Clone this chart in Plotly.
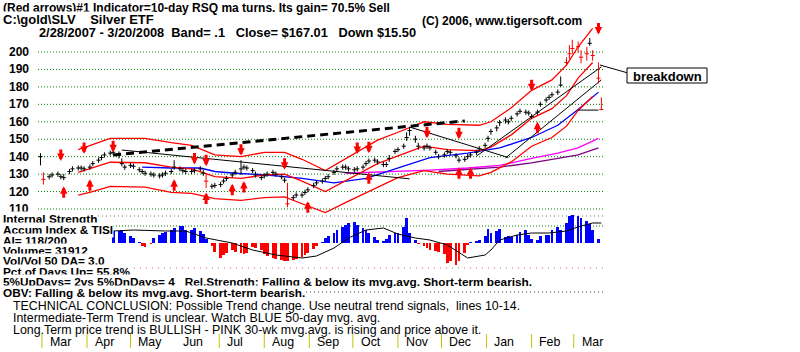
import pandas as pd
import plotly.graph_objects as go

# ---------------- data ----------------
bar_dates = pd.bdate_range("2007-02-28", "2008-03-20")[::2]   # one bar every 2 trading days

close = [140,127,128.5,129.5,130,128.5,128,131.5,133,133.5,
 133.5,133,134,136,138,139.5,141,142,142.5,141,
 136,134,135,134.5,132.5,131.5,130.5,130,129.5,129,
 129.5,130.5,131.5,134,133,132,131.5,131.5,132,133,
 130.5,126,123,123.5,124,126,127.5,129.5,131,133,
 134,133.5,132,129.5,128,129,130,131,130,128.5,
 126.5,113,116.5,118,118,119.5,121,123.5,125,126,
 127.5,128.5,131,133,134,134,133,132.5,133,134,
 136,137.5,138,137,135.5,135.5,139,143,144,146,
 151,155,150,146,145,146,145,142.5,140,141,
 143,142.5,140.5,138,138.5,140,141,142.5,144.5,146.5,
 150.5,154.5,156.5,159.5,161,160,162,164.5,166,165.5,
 165,163,165.5,170,172.5,174,175.5,177,181,194,
 199,202,203,197,199,205,198,185,167]
high = [142,131,130,131,131.5,130,130,133,134.5,135,
 135,134.5,135.5,137.5,139.5,141,142.5,143.5,144,143,
 139,135.5,136.5,136,134,133,132,131.5,131,130.5,
 131,132,133,138,134.5,133.5,133,133,133.5,134.5,
 132.5,130.5,124.5,125,125.5,127.5,129,131,132.5,138,
 135.5,135,133.5,131.5,129.5,130.5,131.5,132.5,131.5,130,
 128,125,118,119.5,119.5,121,122.5,125,126.5,127.5,
 129,130,132.5,134.5,135.5,135.5,134.5,134,134.5,135.5,
 137.5,139,139.5,138.5,137,137,141,144.5,145.5,147.5,
 154,157,152,148,146.5,147.5,146.5,144,141.5,142.5,
 144.5,144,142,139.5,140,141.5,142.5,144,146,148,
 152,156,158,161,162.5,161.5,163.5,166,167.5,167,
 166.5,164.5,167,171.5,174,175.5,177,178.5,186,197,
 204,207,206,201,203,208,201,194,174]
low = [135,124,127,128,128.5,127,126.5,130,131.5,132,
 132,131.5,132.5,134.5,136.5,138,139.5,140.5,141,139,
 134.5,132.5,133.5,133,131,130,129,128.5,128,127.5,
 128,129,130,132.5,131.5,130.5,130,130,130.5,131.5,
 129,122,121.5,122,122.5,124.5,126,128,129.5,129.5,
 132.5,132,130.5,128,126.5,127.5,128.5,129.5,128.5,127,
 125,111,115,116.5,116.5,118,119.5,122,123.5,124.5,
 126,127,129.5,131.5,132.5,132.5,131.5,131,131.5,132.5,
 134.5,136,136.5,135.5,134,134,137,141.5,142.5,144.5,
 149,152,148,144,143.5,144.5,143.5,141,138.5,139.5,
 141.5,141,139,136.5,137,138.5,139.5,141,143,145,
 148.5,152.5,154.5,157.5,159,158.5,160.5,163,164.5,164,
 163.5,161.5,164,168.5,171,172.5,174,175.5,180,192,
 196,199,199.5,193.5,195,203.5,195,182,166.7]
red_bars = [1, 41, 61, 129, 130, 131, 132, 133, 134, 136, 137, 138]

band_idx = [9,12,17,26,32,37,43,49,55,60,64,70,76,83,88,94,100,108,111,116,121,126,129,132,136]
band_upper = [144,146.5,150.5,150.5,148,146.5,141,140,142.5,142.5,138.5,132,140,149.5,154,160,158.5,158,160,168,178,184,192.5,203,213.5]
ma21 = [131,133,136.8,136.5,134,133,128.5,127.5,129.5,130,126,120,127,136,140.5,146,144,143.5,145.5,152.5,162,167.5,175,185,194]
band_lower = [118,119.5,123,122.5,119.5,119,116,115,116.5,117,113,108,114.5,122.5,128,132,130,129,131,137,146,151,157.5,166.5,174.5]

ma50_idx = [25,32,39,43,48,56,64,72,80,88,96,105,113,121,127,132,137]
ma50 = [134,133.5,133.5,131.5,130.5,129.5,127.5,125,127.5,133.5,139.5,142,145,151,158,167,177]

ma30wk_idx = [75,88,96,105,113,121,127,132,137]
ma30wk = [130.5,131.5,132.3,133.5,135,139,142,145,150.5]

purple_idx = [98,113,121,132,137]
purple_ma = [131.5,134,136.5,141,145]

# trend lines (bar index pairs, price pairs)
dash_idx, dash_val = [18, 104], [141, 160.5]
down1_idx, down1_val = [20, 91], [143.8, 127.3]
down2_idx, down2_val = [91, 115], [157, 139.5]
up1_idx, up1_val = [107, 138], [140.3, 191.5]
up2_idx, up2_val = [114, 138], [139.2, 184]
flat_idx, flat_val = [132, 137], [166.7, 166.7]

# signal arrows (bar index, price at arrow tip)
sell_idx = [5, 11, 18, 38, 41, 49, 60, 78, 81, 95, 103, 121, 137]
sell_tip = [137.5, 141.5, 142.5, 135.5, 134.5, 140.5, 132.5, 141.5, 142, 150.5, 150, 177.5, 210]
buy_idx = [6, 12, 33, 41, 47, 50, 66, 81, 103, 106, 122]
buy_tip = [123, 127, 127, 119.5, 124.5, 126, 114.5, 131, 134, 134, 160]

# accumulation index (starts at bar 18) and its moving line
ai_start = 18
accum = [12,12.5,13,10,7,5,1,-3,-4,-1,5,8,10,11,13,15,17,17,13,13,
 15,12,9,4,-3,-9,-15,-12,-10,-7,-9,-10,-11,-10,-4,-5,-7,-11,-13,-15,
 -16,-17,-18,-18,-17,-16,-14,-12,-10,-6,-3,1,5,7,10,13,16,18,20,21,
 18,15,13,10,6,3,2,4,8,10,10,16,25,10,3,-1,-3,-5,-7,-8,
 -9,-11,-20,-18,-22,-18,-10,-2,1,2,3,7,14,10,12,14,6,7,6,8,
 11,13,8,4,3,7,8,8,13,16,13,20,27,28,27,25,22,19,13,4,0]
tisi_idx = [18,23,31,36,41,47,52,58,64,68,72,76,80,84,88,92,96,100,105,109,111,113,117,121,125,129,133,136,138]
tisi = [12,13,12,12,5,0,-7,-12,-15,-13,-5,5,13,15,9,5,3,-2,-15,-12,-7,3,8,10,10,12,17,20,20]

price_levels = [200,190,180,170,160,150,140,130,120,110]
month_starts = ["2007-03-01","2007-04-01","2007-05-01","2007-06-01","2007-07-01","2007-08-01","2007-09-01",
                "2007-10-01","2007-11-01","2007-12-01","2008-01-01","2008-02-01","2008-03-01"]
month_names = ["Mar","Apr","May","Jun","Jul","Aug","Sep","Oct","Nov","Dec","Jan","Feb","Mar"]
month_tick_shown = [True,True,True,False,True,True,True,True,True,True,True,True,True]

# ---------------- geometry helpers ----------------
W, H = 800, 352
def px(x): return x / W
def py(y): return 1 - y / H

PXDAY = 559 / 384.0
x_start = pd.Timestamp("2007-03-01") - pd.Timedelta(days=42 / PXDAY)
x_end = pd.Timestamp("2008-03-20") + pd.Timedelta(days=199 / PXDAY)
ppu = 157 / 90.0
y_top = 200 + 52 / ppu
y_bot = 110 - (H - 209) / ppu

D = list(bar_dates)
def dts(idx): return [D[i] for i in idx]

fig = go.Figure()

def bar_trace(indices, color):
    xs, ys, cx, cy = [], [], [], []
    for i in indices:
        xs += [D[i], D[i], None]
        ys += [low[i], high[i], None]
        cx.append(D[i]); cy.append(close[i])
    fig.add_trace(go.Scatter(x=xs, y=ys, mode="lines", line=dict(color=color, width=1), hoverinfo="skip"))
    fig.add_trace(go.Scatter(x=cx, y=cy, mode="markers",
                             marker=dict(symbol="line-ew", size=3, line=dict(color=color, width=1)), hoverinfo="skip"))

black_bars = [i for i in range(len(close)) if i not in red_bars]

def line_trace(idx, vals, color, width=1, dash=None):
    fig.add_trace(go.Scatter(x=dts(idx), y=vals, mode="lines",
                             line=dict(color=color, width=width, dash=dash), hoverinfo="skip"))

line_trace(ma30wk_idx, ma30wk, "#ff00ff", 1.3)
line_trace(purple_idx, purple_ma, "#800080", 1.3)
line_trace(ma50_idx, ma50, "#0000ff", 1.3)
line_trace(band_idx, band_upper, "#ff0000", 1.3)
line_trace(band_idx, ma21, "#ff0000", 1.3)
line_trace(band_idx, band_lower, "#ff0000", 1.3)
line_trace(dash_idx, dash_val, "#000000", 3, "8px,5px")
line_trace(down1_idx, down1_val, "#000000", 1)
line_trace(down2_idx, down2_val, "#000000", 1)
line_trace(up1_idx, up1_val, "#000000", 1)
line_trace(up2_idx, up2_val, "#000000", 1)
line_trace(flat_idx, flat_val, "#000000", 1)

bar_trace(black_bars, "#000000")
bar_trace(red_bars, "#ff0000")

ai_dates = D[ai_start:ai_start + len(accum)]
fig.add_trace(go.Bar(x=ai_dates, y=accum, yaxis="y2", width=86400000 * 1.9,
                     marker=dict(color=["#0000ff" if v >= 0 else "#ff0000" for v in accum], line=dict(width=0)),
                     hoverinfo="skip"))
fig.add_trace(go.Scatter(x=dts(tisi_idx), y=tisi, yaxis="y2", mode="lines",
                         line=dict(color="#000000", width=1), hoverinfo="skip"))

shapes = []
for lv in price_levels:
    shapes.append(dict(type="line", xref="paper", yref="y", x0=px(38), x1=px(604), y0=lv, y1=lv,
                       line=dict(color="#008000", width=1, dash="1px,2px"), layer="below"))
for yy, col, dsh in [(216, "#707070", "1px,3px"), (226, "#008000", "1px,2px"),
                     (268, "#c07070", "1px,5px"), (292, "#404040", "1px,3px")]:
    shapes.append(dict(type="line", xref="paper", yref="paper", x0=px(38), x1=px(604), y0=py(yy), y1=py(yy),
                       line=dict(color=col, width=1, dash=dsh), layer="below"))
for m, show in zip(month_starts, month_tick_shown):
    if show:
        shapes.append(dict(type="line", xref="x", yref="paper", x0=m, x1=m, y0=py(334), y1=py(348),
                           line=dict(color="#c0c000", width=1)))
shapes.append(dict(type="line", xref="paper", yref="paper", x0=px(600), y0=py(65), x1=px(628), y1=py(73),
                   line=dict(color="#000000", width=1)))
shapes.append(dict(type="rect", xref="paper", yref="paper", x0=px(627), y0=py(68), x1=px(707), y1=py(83),
                   line=dict(color="#000000", width=1), fillcolor="white"))

ann = []
SANS = "Liberation Sans, Arial, sans-serif"

def text(x, y, s, size=12, weight="bold", anchor="left", bg=None):
    ann.append(dict(xref="paper", yref="paper", x=px(x), y=py(y), text=s, showarrow=False,
                    xanchor=anchor, yanchor="middle", borderpad=0, bgcolor=bg,
                    font=dict(family=SANS, size=size, color="#000000", weight=weight)))

text(2, 8, "(Red arrows)#1 Indicator=10-day RSQ ma turns. Its gain= 70.5% Sell", size=12)
text(2, 20, "C:\\gold\\SLV    Silver ETF", size=13, bg="white")
text(421, 21, "(C) 2006, www.tigersoft.com")
text(38, 32, "2/28/2007 - 3/20/2008  Band= .1   Close= $167.01   Down $15.50", size=12.8, bg="white")

for lv in price_levels:
    ann.append(dict(xref="paper", yref="y", x=px(31), y=lv, text=str(lv), showarrow=False,
                    xanchor="right", yanchor="middle",
                    font=dict(family=SANS, size=12, color="#000000", weight="bold")))

left_lines = ["Internal Strength", "Accum Index & TISI", "AI= 118/200", "Volume= 31912",
              "Vol/Vol 50 DA= 3.0", "Pct.of Days Up= 55.8%",
              "5%UpDays= 2vs 5%DnDays= 4   Rel.Strength: Falling & below its mvg.avg. Short-term bearish.",
              "OBV: Falling & below its mvg.avg. Short-term bearish."]
for yy, s in zip([219, 230, 241, 251, 261, 272, 282, 293], left_lines):
    text(2, yy, s, size=11.8, bg="white")

text(12, 306, "TECHNICAL CONCLUSION: Possible Trend change. Use neutral trend signals,  lines 10-14.",
     size=12.4, weight="normal")
text(12, 318, "Intermediate-Term Trend is unclear. Watch BLUE 50-day mvg. avg.", size=12.4, weight="normal")
text(12, 330, "Long.Term price trend is BULLISH - PINK 30-wk mvg.avg. is rising and price above it.",
     size=12.4, weight="normal")

for m, name in zip(month_starts, month_names):
    ann.append(dict(xref="x", yref="paper", x=pd.Timestamp(m) + pd.Timedelta(days=4), y=py(342),
                    text=name, showarrow=False, xanchor="left", yanchor="middle",
                    font=dict(family=SANS, size=12.4, color="#000000")))

text(667, 76, "breakdown", size=13, anchor="center")

for i, tip in zip(sell_idx, sell_tip):
    ann.append(dict(xref="x", yref="y", x=D[i], y=tip, text="", showarrow=True, ax=0, ay=-13,
                    arrowhead=2, arrowsize=0.5, arrowwidth=3, arrowcolor="#ff0000"))
for i, tip in zip(buy_idx, buy_tip):
    ann.append(dict(xref="x", yref="y", x=D[i], y=tip, text="", showarrow=True, ax=0, ay=13,
                    arrowhead=2, arrowsize=0.5, arrowwidth=3, arrowcolor="#ff0000"))

fig.update_layout(
    width=W, height=H, margin=dict(l=0, r=0, t=0, b=0),
    paper_bgcolor="white", plot_bgcolor="white", showlegend=False, bargap=0,
    xaxis=dict(type="date", range=[x_start, x_end], visible=False, fixedrange=True),
    yaxis=dict(range=[y_bot, y_top], visible=False, fixedrange=True),
    yaxis2=dict(range=[-(H - 243), 243], overlaying="y", visible=False, fixedrange=True),
    shapes=shapes, annotations=ann,
)
fig.write_html("out.html")
